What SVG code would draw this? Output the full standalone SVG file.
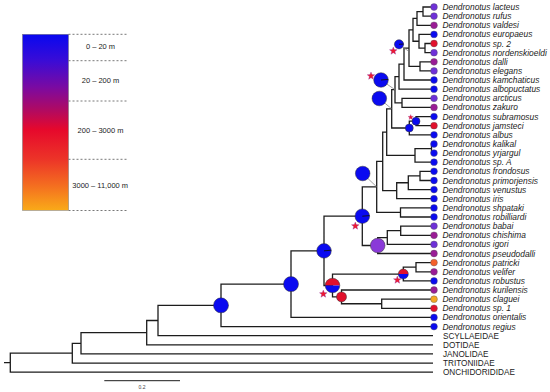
<svg xmlns="http://www.w3.org/2000/svg" xmlns:xlink="http://www.w3.org/1999/xlink" width="550" height="392" viewBox="0 0 550 392">
<defs>
<linearGradient id="depth" x1="0" y1="0" x2="0" y2="1">
<stop offset="0" stop-color="#0808f0"/>
<stop offset="0.15" stop-color="#3a0cd6"/>
<stop offset="0.3" stop-color="#7a0aa2"/>
<stop offset="0.43" stop-color="#b00a62"/>
<stop offset="0.54" stop-color="#e6082c"/>
<stop offset="0.71" stop-color="#ec3428"/>
<stop offset="0.86" stop-color="#f46e20"/>
<stop offset="1" stop-color="#f9aa18"/>
</linearGradient>
<path id="star" d="M0,-4L1,-1.38L3.8,-1.24L1.62,0.53L2.35,3.24L0,1.7L-2.35,3.24L-1.62,0.53L-3.8,-1.24L-1,-1.38Z"/>
</defs>
<style>
.br{fill:none;stroke:#1c1c1c;stroke-width:1.3}
.lead{stroke:#8a8a8a;stroke-width:0.8}
.tip{stroke:#555;stroke-width:0.4}
.anc{stroke:#333;stroke-width:0.5}
.b{fill:#0a0af0}
.v{fill:#6e30d8}
.m{fill:#9a1c96}
.r{fill:#e2102c}
.o{fill:#f5a623}
.pu{fill:#8a3ad8}
.st{fill:#ee1a30;stroke:#8a3ab0;stroke-width:0.35}
.tick{stroke:#111;stroke-width:0.9}
.lab{font-family:"Liberation Sans",Arial,sans-serif;font-size:8.4px;font-style:italic;fill:#222}
.og{font-family:"Liberation Sans",Arial,sans-serif;font-size:8.2px;fill:#222}
.leg{font-family:"Liberation Sans",Arial,sans-serif;font-size:7.5px;fill:#222;text-anchor:middle}
.dash{stroke:#555;stroke-width:0.8;stroke-dasharray:2,2}
</style>
<rect width="550" height="392" fill="#fff"/>

<g id="legend">
<rect x="22.5" y="34.3" width="46" height="176" fill="url(#depth)" stroke="#777" stroke-width="0.5"/>
<line class="dash" x1="68.5" y1="34.3" x2="128.5" y2="34.3"/>
<line class="dash" x1="68.5" y1="60.7" x2="128.5" y2="60.7"/>
<line class="dash" x1="68.5" y1="101" x2="128.5" y2="101"/>
<line class="dash" x1="68.5" y1="159.3" x2="128.5" y2="159.3"/>
<line class="dash" x1="68.5" y1="210.5" x2="128.5" y2="210.5"/>
<text class="leg" x="100.5" y="48.7">0 – 20 m</text>
<text class="leg" x="100.5" y="83">20 – 200 m</text>
<text class="leg" x="100.5" y="132.7">200 – 3000 m</text>
<text class="leg" x="100.2" y="188">3000 – 11,000 m</text>
</g>

<g id="connectors">
<path class="br" d="M434 7H423V16.1H434M423 11.55H417V25.3H434M434 43.5H425V52.7H434M434 34.4H419V48.1H425M417 18.4H413V41.25H419M434 61.8H420V70.9H434M413 29.8H409V66.35H420M409 48.1H404V80H434M404 64.05H399V89.2H434M434 98.3H402V107.4H434M399 76.6H395V102.85H402M434 116.6H416V125.7H434M416 121.15H409.3V134.8H434M395 89.7H391.7V128H409.3M434 144H431.5V153.1H434M431.5 148.55H415V162.2H434M391.7 108.85H386.7V155.4H415M434 171.3H420V180.5H434M420 175.9H408.3V189.6H434M408.3 182.75H396.7V198.7H434M386.7 132.1H382.7V190.7H396.7M434 207.9H400.5V217H434M382.7 161.4H376.7V212.45H400.5M434 226.1H400.7V235.3H434M400.7 230.7H387.3V244.4H434M387.3 237.55H377.7V253.5H434M376.7 186.9H362.3V245.5H377.7M434 262.6H416V271.8H434M416 267.2H403.3V280.9H434M434 299.2H381.7V308.3H434M434 290H341.5V303.75H381.7M403.3 274.05H332.5V296.9H341.5M362.3 216.2H324V285.5H332.5M324 250.85H291V317.4H434M291 284.1H221V326.6H434M221 305.35H158V335.7H433M158 320.5H146.7V344.8H433M146.7 332.65H81V353.9H433M81 343.3H72.3V363.1H433M72.3 353.2H10.3V372.2H433M4 362.7H10.3"/>
<line class="lead" x1="399" y1="44.3" x2="408.3" y2="51"/>
<line class="lead" x1="381" y1="80" x2="395" y2="89.7"/>
<line class="lead" x1="379.3" y1="98.5" x2="391.7" y2="108.85"/>
<line class="lead" x1="362.7" y1="173.5" x2="376.7" y2="186.9"/>
</g>

<g id="node-E"><circle class="anc b" cx="221" cy="305.35" r="7.5"/></g>
<g id="node-F"><circle class="anc b" cx="291" cy="284.1" r="7.5"/></g>
<g id="node-G"><circle class="anc b" cx="324" cy="250.85" r="7.3"/><line class="tick" x1="324" y1="250.85" x2="331.3" y2="250.2"/></g>
<g id="node-I"><circle class="anc b" cx="362.3" cy="216.2" r="7.3"/><line class="tick" x1="362.3" y1="216.2" x2="369.6" y2="215.6"/><use href="#star" class="st" x="355.3" y="226"/></g>
<g id="node-O"><circle class="anc pu" cx="377.7" cy="245.5" r="7.3"/></g>
<g id="node-H" transform="translate(332.5,285.5)"><path class="r" d="M-7.3,0A7.3,7.3 0 0 1 7.3,0Z"/><path class="b" d="M7.3,0A7.3,7.3 0 0 1 -7.3,0Z"/><circle class="anc" r="7.3" fill="none"/><use href="#star" class="st" x="-9.2" y="8.5"/></g>
<g id="node-J" transform="translate(403.3,274.05)"><path class="r" d="M-5,0A5,5 0 0 1 5,0Z"/><path class="b" d="M5,0A5,5 0 0 1 -5,0Z"/><circle class="anc" r="5" fill="none"/><use href="#star" class="st" x="-6" y="6"/></g>
<g id="node-K"><circle class="anc r" cx="341.5" cy="296.9" r="5"/></g>
<g id="node-N"><circle class="anc b" cx="362.7" cy="173.5" r="7.3"/></g>
<g id="node-Q1"><circle class="anc b" cx="379.3" cy="98.5" r="7.3"/></g>
<g id="node-Z2"><circle class="anc b" cx="381" cy="80" r="7.3"/><line class="tick" x1="381" y1="80" x2="388.3" y2="79.4"/><use href="#star" class="st" x="371" y="76"/></g>
<g id="node-X"><circle class="anc b" cx="399" cy="44.3" r="4.6"/><line class="tick" x1="399" y1="44.3" x2="403.6" y2="44"/><use href="#star" class="st" x="393.3" y="51"/></g>
<g id="node-SJ"><use href="#star" class="st" transform="translate(410.7,117.3) scale(0.7)"/><circle class="anc b" cx="416" cy="121.15" r="4"/></g>
<g id="node-SJA"><circle class="anc b" cx="409.3" cy="128" r="4"/></g>

<g id="tips">
<g id="tip-lacteus"><circle class="tip v" cx="434" cy="7" r="3.4"/><text class="lab" x="442.5" y="10">Dendronotus lacteus</text></g>
<g id="tip-rufus"><circle class="tip v" cx="434" cy="16.1" r="3.4"/><text class="lab" x="442.5" y="19.1">Dendronotus rufus</text></g>
<g id="tip-valdesi"><circle class="tip m" cx="434" cy="25.3" r="3.4"/><text class="lab" x="442.5" y="28.3">Dendronotus valdesi</text></g>
<g id="tip-europaeus"><circle class="tip b" cx="434" cy="34.4" r="3.4"/><text class="lab" x="442.5" y="37.4">Dendronotus europaeus</text></g>
<g id="tip-sp2"><circle class="tip r" cx="434" cy="43.5" r="3.4"/><text class="lab" x="442.5" y="46.5">Dendronotus sp. 2</text></g>
<g id="tip-nordenskioeldi"><circle class="tip v" cx="434" cy="52.7" r="3.4"/><text class="lab" x="442.5" y="55.7">Dendronotus nordenskioeldi</text></g>
<g id="tip-dalli"><circle class="tip m" cx="434" cy="61.8" r="3.4"/><text class="lab" x="442.5" y="64.8">Dendronotus dalli</text></g>
<g id="tip-elegans"><circle class="tip v" cx="434" cy="70.9" r="3.4"/><text class="lab" x="442.5" y="73.9">Dendronotus elegans</text></g>
<g id="tip-kamchaticus"><circle class="tip b" cx="434" cy="80" r="3.4"/><text class="lab" x="442.5" y="83">Dendronotus kamchaticus</text></g>
<g id="tip-albopuctatus"><circle class="tip b" cx="434" cy="89.2" r="3.4"/><text class="lab" x="442.5" y="92.2">Dendronotus albopuctatus</text></g>
<g id="tip-arcticus"><circle class="tip v" cx="434" cy="98.3" r="3.4"/><text class="lab" x="442.5" y="101.3">Dendronotus arcticus</text></g>
<g id="tip-zakuro"><circle class="tip m" cx="434" cy="107.4" r="3.4"/><text class="lab" x="442.5" y="110.4">Dendronotus zakuro</text></g>
<g id="tip-subramosus"><circle class="tip b" cx="434" cy="116.6" r="3.4"/><text class="lab" x="442.5" y="119.6">Dendronotus subramosus</text></g>
<g id="tip-jamsteci"><circle class="tip r" cx="434" cy="125.7" r="3.4"/><text class="lab" x="442.5" y="128.7">Dendronotus jamsteci</text></g>
<g id="tip-albus"><circle class="tip b" cx="434" cy="134.8" r="3.4"/><text class="lab" x="442.5" y="137.8">Dendronotus albus</text></g>
<g id="tip-kalikal"><circle class="tip b" cx="434" cy="144" r="3.4"/><text class="lab" x="442.5" y="147">Dendronotus kalikal</text></g>
<g id="tip-yrjargul"><circle class="tip b" cx="434" cy="153.1" r="3.4"/><text class="lab" x="442.5" y="156.1">Dendronotus yrjargul</text></g>
<g id="tip-spA"><circle class="tip b" cx="434" cy="162.2" r="3.4"/><text class="lab" x="442.5" y="165.2">Dendronotus sp. A</text></g>
<g id="tip-frondosus"><circle class="tip b" cx="434" cy="171.3" r="3.4"/><text class="lab" x="442.5" y="174.3">Dendronotus frondosus</text></g>
<g id="tip-primorjensis"><circle class="tip b" cx="434" cy="180.5" r="3.4"/><text class="lab" x="442.5" y="183.5">Dendronotus primorjensis</text></g>
<g id="tip-venustus"><circle class="tip b" cx="434" cy="189.6" r="3.4"/><text class="lab" x="442.5" y="192.6">Dendronotus venustus</text></g>
<g id="tip-iris"><circle class="tip b" cx="434" cy="198.7" r="3.4"/><text class="lab" x="442.5" y="201.7">Dendronotus iris</text></g>
<g id="tip-shpataki"><circle class="tip b" cx="434" cy="207.9" r="3.4"/><text class="lab" x="442.5" y="210.9">Dendronotus shpataki</text></g>
<g id="tip-robilliardi"><circle class="tip b" cx="434" cy="217" r="3.4"/><text class="lab" x="442.5" y="220">Dendronotus robilliardi</text></g>
<g id="tip-babai"><circle class="tip v" cx="434" cy="226.1" r="3.4"/><text class="lab" x="442.5" y="229.1">Dendronotus babai</text></g>
<g id="tip-chishima"><circle class="tip m" cx="434" cy="235.3" r="3.4"/><text class="lab" x="442.5" y="238.3">Dendronotus chishima</text></g>
<g id="tip-igori"><circle class="tip v" cx="434" cy="244.4" r="3.4"/><text class="lab" x="442.5" y="247.4">Dendronotus igori</text></g>
<g id="tip-pseudodalli"><circle class="tip m" cx="434" cy="253.5" r="3.4"/><text class="lab" x="442.5" y="256.5">Dendronotus pseudodalli</text></g>
<g id="tip-patricki"><circle class="tip" fill="#f4602a" cx="434" cy="262.6" r="3.4"/><text class="lab" x="442.5" y="265.6">Dendronotus patricki</text></g>
<g id="tip-velifer"><circle class="tip m" cx="434" cy="271.8" r="3.4"/><text class="lab" x="442.5" y="274.8">Dendronotus velifer</text></g>
<g id="tip-robustus"><circle class="tip b" cx="434" cy="280.9" r="3.4"/><text class="lab" x="442.5" y="283.9">Dendronotus robustus</text></g>
<g id="tip-kurilensis"><circle class="tip m" cx="434" cy="290" r="3.4"/><text class="lab" x="442.5" y="293">Dendronotus kurilensis</text></g>
<g id="tip-claguei"><circle class="tip o" cx="434" cy="299.2" r="3.4"/><text class="lab" x="442.5" y="302.2">Dendronotus claguei</text></g>
<g id="tip-sp1"><circle class="tip r" cx="434" cy="308.3" r="3.4"/><text class="lab" x="442.5" y="311.3">Dendronotus sp. 1</text></g>
<g id="tip-orientalis"><circle class="tip b" cx="434" cy="317.4" r="3.4"/><text class="lab" x="442.5" y="320.4">Dendronotus orientalis</text></g>
<g id="tip-regius"><circle class="tip b" cx="434" cy="326.6" r="3.4"/><text class="lab" x="442.5" y="329.6">Dendronotus regius</text></g>
<g id="tip-scyllaeidae"><text class="og" x="443" y="338.7">SCYLLAEIDAE</text></g>
<g id="tip-dotidae"><text class="og" x="443" y="347.8">DOTIDAE</text></g>
<g id="tip-janolidae"><text class="og" x="443" y="356.9">JANOLIDAE</text></g>
<g id="tip-tritoniidae"><text class="og" x="443" y="366.1">TRITONIIDAE</text></g>
<g id="tip-onchidorididae"><text class="og" x="443" y="375.2">ONCHIDORIDIDAE</text></g>
</g>

<g id="scale">
<line x1="104.3" y1="380.7" x2="180" y2="380.7" stroke="#1c1c1c" stroke-width="1"/>
<text x="142" y="388.5" font-family="Liberation Sans, Arial, sans-serif" font-size="5px" fill="#444" text-anchor="middle">0.2</text>
</g>
</svg>
